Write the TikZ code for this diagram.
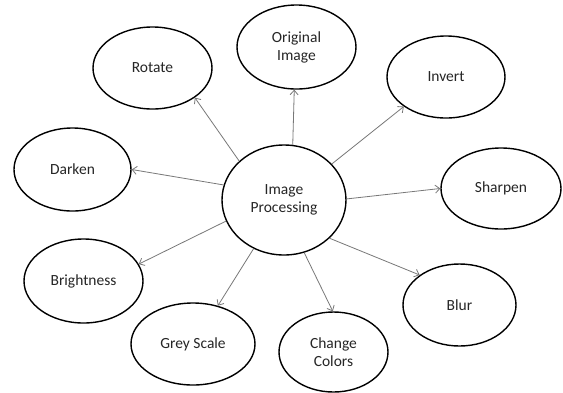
\documentclass[tikz,border=0pt]{standalone}
\usepackage{fontspec}
\setmainfont{Carlito}
\usetikzlibrary{shapes.geometric,arrows.meta}
\definecolor{txt}{RGB}{38,38,38}
\definecolor{conn}{RGB}{120,120,120}
\tikzset{
  bubble/.style={draw=black, line width=1.4pt, ellipse, inner sep=0pt, align=center,
    text=txt, font=\fontsize{15.5}{18}\selectfont},
  link/.style={draw=conn, line width=0.8pt, -{Straight Barb[length=4.5pt,width=8pt]}}
}
\begin{document}
\begin{tikzpicture}[x=1pt,y=-1pt]
\path[use as bounding box, fill=white] (0,0) rectangle (563,392);
\node[bubble, minimum width=124pt, minimum height=110pt] (c) at (284,200) {Image\\Processing};
\node[bubble, minimum width=119pt, minimum height=82pt] (rot) at (152.5,68) {Rotate};
\node[bubble, minimum width=119pt, minimum height=84pt] (orig) at (296.5,47) {Original\\Image};
\node[bubble, minimum width=118pt, minimum height=82pt] (inv) at (446,77) {Invert};
\node[bubble, minimum width=120pt, minimum height=81pt] (sha) at (501,188.5) {Sharpen};
\node[bubble, minimum width=113pt, minimum height=82pt] (blur) at (459.5,305) {Blur};
\node[bubble, minimum width=109pt, minimum height=80pt] (chg) at (333.5,352) {Change\\Colors};
\node[bubble, minimum width=124pt, minimum height=82pt] (grey) at (193,344) {Grey Scale};
\node[bubble, minimum width=119pt, minimum height=84pt] (bri) at (83.5,281) {Brightness};
\node[bubble, minimum width=117pt, minimum height=83pt] (dark) at (72.5,169.5) {Darken};
\draw[link] (c.139.2) -- (rot.-35.9);
\draw[link] (c.81.8) -- (orig.-93.7);
\draw[link] (c.37.5) -- (inv.215.3);
\draw[link] (c.1) -- (sha.180.5);
\draw[link] (c.-40) -- (blur.143.5);
\draw[link] (c.-69.5) -- (chg.91);
\draw[link] (c.-122) -- (grey.57.4);
\draw[link] (c.200.4) -- (bri.17.4);
\draw[link] (c.166.5) -- (dark.-0.5);
\end{tikzpicture}
\end{document}
